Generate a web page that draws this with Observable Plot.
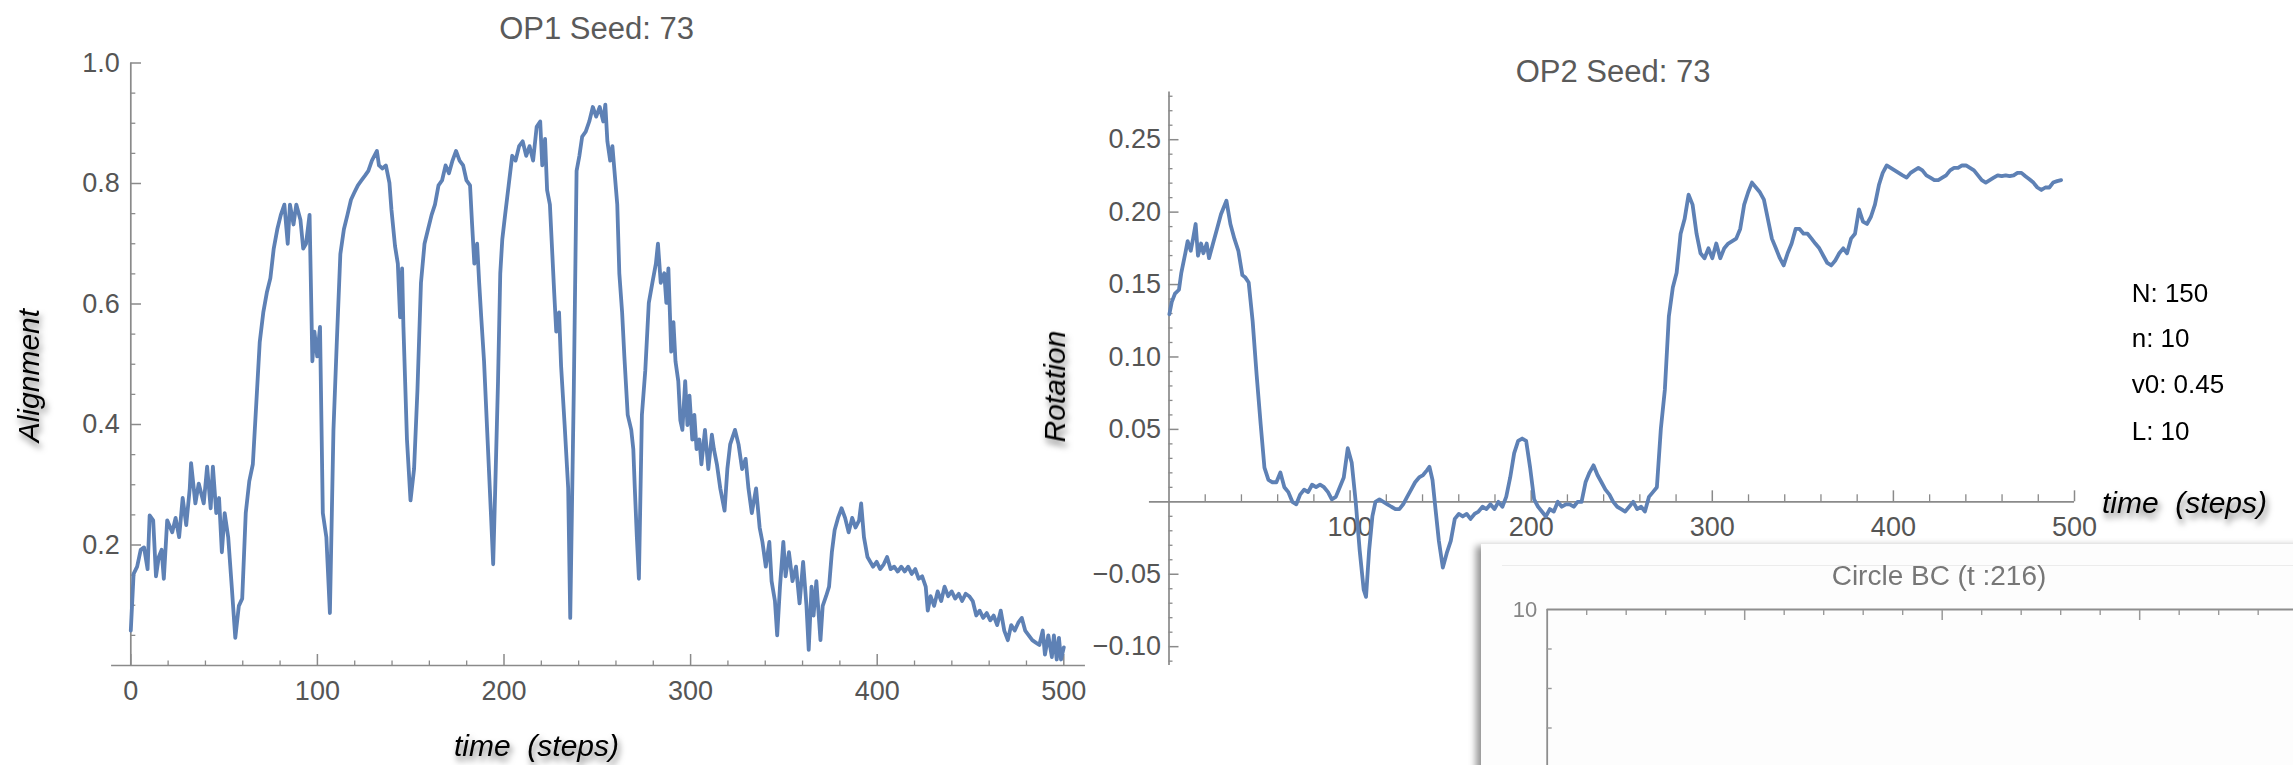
<!DOCTYPE html>
<html><head><meta charset="utf-8">
<script src="https://cdn.jsdelivr.net/npm/d3@7"></script>
<script src="https://cdn.jsdelivr.net/npm/@observablehq/plot@0.6"></script>
<style>
html,body{margin:0;padding:0;background:#fff;}
#wrap{position:relative;width:2293px;height:765px;overflow:hidden;background:#fff;}
#wrap svg{position:absolute;left:0;top:0;}
.card{position:absolute;left:1481px;top:543px;width:900px;height:300px;background:#fdfdfd;border-top:1px solid #e6e6e6;box-shadow:-5px 3px 7px rgba(0,0,0,0.42);}
.cardline{position:absolute;left:1502px;top:565px;width:900px;height:1px;background:#ececec;}
</style></head><body><div id="wrap"></div><script>
// ---------- DATA ----------
// OP1 (Alignment) time steps and values
const op1T = [
0,1.5,3.4,5.3,7.1,9.0,10.1,12.0,13.5,15.0,
16.5,17.7,19.5,22.2,24.0,25.9,27.8,29.7,31.6,32.3,
34.6,36.4,39.1,40.9,42.8,44.0,45.8,47.3,48.8,50.3,
52.2,54.1,56.0,57.9,59.7,61.6,63.5,65.4,67.2,69.1,
71.0,72.9,74.8,76.6,78.5,80.4,82.3,84.1,85.3,87.2,
88.7,90.9,92.4,93.9,95.8,97.3,98.4,99.9,101.4,102.9,
104.8,106.7,108.6,110.4,112.3,114.2,116.1,118.0,119.8,121.7,
123.6,125.5,127.3,129.2,131.9,133.0,134.9,136.7,138.6,139.7,
141.6,143.1,144.3,145.4,146.1,148.0,149.9,151.8,153.6,155.5,
157.4,159.3,161.2,163.0,164.9,166.8,168.7,170.5,172.4,174.3,
176.2,178.1,179.9,181.8,182.9,184.1,185.6,186.7,187.8,189.3,
191.2,193.1,194.2,195.3,196.8,198.0,199.1,200.6,202.5,204.4,
206.2,208.1,210.0,211.9,213.7,215.6,217.5,219.4,220.5,222.0,
223.1,224.6,226.9,228.0,229.5,230.6,232.5,234.4,235.5,237.4,
238.9,240.4,241.9,243.8,245.7,247.6,249.4,251.3,253.2,254.3,
255.4,256.9,258.1,259.2,260.7,261.8,263.3,264.5,266.3,268.2,
269.3,270.1,271.2,272.3,273.9,275.7,277.6,279.5,281.4,282.5,
284.0,285.9,287.0,288.1,289.6,290.8,291.9,293.4,294.5,295.6,
297.1,298.3,299.4,300.9,302.0,303.2,304.7,305.8,307.7,309.5,
311.4,312.5,314.1,315.9,318.2,319.7,321.2,323.8,325.7,327.6,
329.5,331.0,332.8,335.1,337.0,338.5,340.3,342.2,343.4,345.2,
346.4,347.9,349.7,350.9,352.7,354.6,356.5,358.4,360.3,362.1,
363.3,364.8,365.9,367.4,368.5,369.6,370.8,372.6,374.2,375.7,
377.2,379.0,380.9,382.8,384.7,386.6,388.4,390.3,391.4,392.9,
394.8,397.8,399.7,401.6,403.5,405.3,407.2,409.1,411.0,412.9,
414.7,416.6,418.5,420.4,422.2,424.1,426.0,427.1,428.6,430.5,
432.4,434.3,436.1,438.0,439.9,441.8,443.7,445.5,447.4,449.3,
451.2,453.1,454.9,456.8,458.7,460.6,462.4,464.3,466.2,468.1,
470.0,471.8,473.7,475.6,477.5,479.3,481.2,483.1,485.0,486.9,
488.7,489.9,491.7,493.6,494.7,496.2,497.4,498.5,500.0];
const op1V = [
.058,.152,.164,.192,.196,.160,.249,.241,.148,.180,
.192,.144,.241,.221,.245,.213,.278,.233,.294,.336,
.269,.302,.269,.330,.261,.330,.253,.278,.188,.253,
.213,.131,.046,.099,.111,.253,.306,.334,.432,.537,
.586,.619,.643,.692,.724,.748,.765,.700,.765,.732,
.765,.740,.692,.700,.748,.505,.554,.513,.562,.253,
.213,.087,.391,.537,.683,.724,.748,.773,.785,.797,
.805,.813,.821,.838,.854,.830,.825,.830,.801,.756,
.696,.667,.578,.659,.562,.375,.274,.326,.456,.635,
.700,.724,.748,.765,.797,.805,.830,.817,.838,.854,
.838,.830,.805,.797,.732,.667,.700,.635,.578,.505,
.375,.245,.168,.294,.472,.651,.708,.748,.797,.846,
.838,.862,.870,.846,.862,.838,.894,.903,.830,.874,
.789,.765,.619,.554,.586,.497,.399,.294,.079,.456,
.821,.846,.878,.886,.903,.927,.911,.927,.903,.931,
.870,.838,.862,.821,.765,.651,.586,.513,.416,.391,
.359,.294,.213,.144,.416,.489,.602,.635,.667,.700,
.635,.651,.602,.659,.521,.570,.505,.472,.407,.391,
.472,.399,.448,.375,.416,.359,.375,.334,.391,.326,
.383,.359,.334,.294,.257,.326,.367,.391,.367,.326,
.343,.294,.253,.294,.229,.205,.164,.205,.140,.107,
.050,.131,.205,.148,.188,.140,.164,.103,.172,.099,
.026,.131,.083,.140,.091,.042,.099,.115,.131,.188,
.225,.245,.261,.245,.221,.245,.229,.241,.269,.213,
.180,.164,.172,.160,.168,.180,.160,.164,.156,.164,
.156,.164,.152,.160,.144,.148,.131,.091,.115,.099,
.123,.107,.131,.115,.123,.111,.119,.107,.119,.115,
.107,.083,.091,.079,.087,.075,.083,.067,.091,.058,
.042,.067,.058,.071,.079,.058,.050,.042,.038,.034,
.058,.018,.050,.014,.050,.010,.046,.010,.030];

// OP2 (Rotation) time steps and values
const op2T = [
0.2,1.5,3.3,5.5,6.8,9.0,10.3,12.0,13.3,14.7,
16.0,17.7,19.0,20.8,22.1,24.3,26.5,28.7,31.7,33.9,
36.1,38.3,40.5,42.2,44.0,46.2,48.4,50.6,52.7,54.9,
57.1,59.3,61.5,63.7,65.9,68.1,70.3,72.4,74.6,76.8,
79.0,81.2,83.4,85.6,87.8,89.9,92.1,94.3,96.5,98.7,
100.9,103.1,105.3,107.5,108.8,110.5,112.3,114.0,116.2,118.4,
120.6,122.8,125.0,127.2,129.3,131.5,133.7,135.9,138.1,140.3,
142.5,143.8,145.5,147.3,149.0,151.2,153.4,155.6,157.8,160.0,
162.2,164.4,166.5,168.7,170.9,173.1,175.3,177.5,179.7,181.9,
184.1,186.2,188.4,190.6,192.8,195.0,197.2,199.4,201.6,203.8,
205.9,208.1,210.3,212.5,214.7,216.9,219.1,221.3,223.5,225.6,
227.8,230.0,232.2,234.4,236.6,238.8,241.0,243.2,245.3,247.5,
249.7,251.9,254.1,256.3,258.5,260.7,262.8,265.0,267.2,269.4,
271.6,273.8,276.0,278.2,280.3,282.5,284.7,286.9,289.1,291.3,
293.5,295.7,297.9,300.0,302.2,304.4,306.6,308.8,311.0,313.2,
315.4,317.6,319.8,321.9,324.1,326.3,328.5,330.7,332.9,335.1,
337.3,339.4,341.6,343.8,346.0,348.2,350.4,352.6,354.8,356.9,
359.1,361.3,363.5,365.7,367.9,370.1,372.3,374.4,376.6,378.8,
381.0,383.2,385.4,387.6,389.8,392.0,394.1,396.3,398.5,400.7,
402.9,405.1,407.3,409.5,411.6,413.8,416.0,418.2,420.4,422.6,
424.8,427.0,429.1,431.3,433.5,435.7,437.9,440.1,442.3,444.5,
446.7,448.8,451.0,453.2,455.4,457.6,459.8,462.0,464.2,466.4,
468.5,470.7,472.9,475.1,477.3,479.5,481.7,483.9,486.1,488.2,
490.4,492.6];
const op2V = [
.1295,.1379,.1437,.1464,.1581,.1716,.1800,.1733,.1817,.1918,
.1699,.1783,.1716,.1783,.1682,.1783,.1884,.1985,.2079,.1918,
.1817,.1733,.1565,.1548,.1514,.1245,.0875,.0538,.0236,.0151,
.0135,.0135,.0202,.0101,.0067,0,-.0017,.0050,.0084,.0067,
.0118,.0101,.0118,.0101,.0067,.0017,.0034,.0101,.0168,.0370,
.0269,0,-.0336,-.0606,-.0656,-.0336,-.0101,0,.0017,0,
-.0017,-.0034,-.0050,-.0050,-.0017,.0034,.0084,.0135,.0168,.0185,
.0219,.0242,.0151,-.0067,-.0269,-.0454,-.0353,-.0269,-.0118,-.0084,
-.0101,-.0084,-.0118,-.0084,-.0067,-.0034,-.0050,-.0017,-.0050,0,
-.0034,.0034,.0168,.0336,.0421,.0437,.0421,.0236,.0017,-.0034,
-.0067,-.0101,-.0050,-.0067,0,-.0034,-.0017,-.0017,-.0034,0,
0,.0135,.0202,.0252,.0185,.0135,.0084,.0050,0,-.0034,
-.0050,-.0067,-.0034,0,-.0050,-.0034,-.0067,.0034,.0067,.0101,
.0505,.0774,.1279,.1480,.1581,.1851,.1952,.2120,.2052,.1851,
.1716,.1682,.1750,.1682,.1783,.1682,.1750,.1783,.1800,.1817,
.1884,.2052,.2137,.2204,.2170,.2137,.2086,.1952,.1817,.1750,
.1682,.1632,.1716,.1783,.1884,.1884,.1851,.1851,.1817,.1783,
.1750,.1699,.1649,.1632,.1666,.1716,.1750,.1716,.1817,.1851,
.2019,.1935,.1918,.1968,.2052,.2187,.2271,.2322,.2305,.2288,
.2271,.2254,.2238,.2271,.2288,.2305,.2288,.2254,.2238,.2221,
.2221,.2238,.2254,.2288,.2305,.2305,.2322,.2322,.2305,.2288,
.2254,.2221,.2204,.2221,.2238,.2254,.2248,.2254,.2248,.2254,
.2271,.2271,.2248,.2227,.2204,.2170,.2153,.2170,.2170,.2204,
.2214,.2221];

// Tick values / labels
const op1XMajor = [0, 100, 200, 300, 400, 500];
const op1YMajor = [0.2, 0.4, 0.6, 0.8, 1.0];
const op2XMajor = [100, 200, 300, 400, 500];
const op2YMajor = [-0.10, -0.05, 0.05, 0.10, 0.15, 0.20, 0.25];
const insetXMajor = [2, 4, 6];
const insetYLabels = [10];

// Texts
const titles = ["OP1 Seed: 73", "OP2 Seed: 73"];
const axisLabels = {op1Y: "Alignment", op2Y: "Rotation", x: "time\u00a0\u00a0(steps)"};
const params = ["N: 150", "n: 10", "v0: 0.45", "L: 10"];
const insetTitle = "Circle BC (t :216)";

// ---------- STYLE ----------
const W = 2293, H = 765;
const FONT = '"Liberation Sans", Arial, Helvetica, sans-serif';
const LINE = "#5E81B5", AX = "#8a8a8a", LBL = "#555555";
const baseStyle = {background: "transparent", overflow: "visible", maxWidth: "none", fontFamily: FONT, fontSize: "27px"};
const isMult = (v, s) => Math.abs(Math.round(v / s) * s - v) < 1e-6;
const op1XMinor = d3.range(20, 500, 20).filter(v => !isMult(v, 100));
const op1YMinor = d3.range(0.05, 0.99, 0.05).filter(v => !isMult(v, 0.2));
const op2XMinor = d3.range(20, 500, 20).filter(v => !isMult(v, 100));
const op2YMinor = d3.range(-0.11, 0.285, 0.01).filter(v => !isMult(v, 0.05));
const insetXMinor = d3.range(0.4, 7.7, 0.4).filter(v => !isMult(v, 2));
const insetYMinor = d3.range(9.6, 8.3, -0.4);

const wrap = document.getElementById("wrap");

// ---------- OP1 ----------
const op1 = op1T.map((t, i) => ({t, v: op1V[i]}));
const p1 = Plot.plot({
  width: W, height: H,
  marginLeft: 130.3, marginRight: W - 1063.3, marginTop: 62.5, marginBottom: H - 665,
  x: {domain: [0, 500]}, y: {domain: [0, 1]},
  style: baseStyle,
  marks: [
    Plot.ruleY([0], {x1: () => -10.3, x2: () => 511.6, stroke: AX, strokeWidth: 1.7}),
    Plot.ruleX([0], {stroke: AX, strokeWidth: 1.7}),
    Plot.axisX({ticks: op1XMajor, tickSize: -11, fill: "none", stroke: AX, strokeWidth: 1.5, label: null}),
    Plot.axisX({ticks: op1XMinor, tickSize: -4.5, fill: "none", stroke: AX, strokeWidth: 1.3, label: null}),
    Plot.axisX({ticks: op1XMajor, tickSize: 0, tickPadding: 15, fill: LBL, fontSize: 27, tickFormat: d => String(d), label: null}),
    Plot.axisY({ticks: op1YMajor, tickSize: -10.7, fill: "none", stroke: AX, strokeWidth: 1.5, label: null}),
    Plot.axisY({ticks: op1YMinor, tickSize: -5, fill: "none", stroke: AX, strokeWidth: 1.3, label: null}),
    Plot.axisY({ticks: op1YMajor, tickSize: 0, tickPadding: 11, fill: LBL, fontSize: 27, tickFormat: d3.format(".1f"), label: null}),
    Plot.line(op1, {x: "t", y: "v", stroke: LINE, strokeWidth: 3.8, strokeLinejoin: "round"})
  ]
});
wrap.appendChild(p1);

// ---------- OP2 ----------
const op2 = op2T.map((t, i) => ({t, v: op2V[i]}));
const y2Dom = [-0.113, 0.283];
const mt2 = 91.4, mb2 = H - 665;
const inner2 = H - mt2 - mb2;
const yZero2 = mt2 + (y2Dom[1] - 0) / (y2Dom[1] - y2Dom[0]) * inner2;
const dyAxis2 = yZero2 - (H - mb2);
const p2 = Plot.plot({
  width: W, height: H,
  marginLeft: 1168.5, marginRight: W - 2074, marginTop: mt2, marginBottom: mb2,
  x: {domain: [0, 500]}, y: {domain: y2Dom},
  style: baseStyle,
  marks: [
    Plot.ruleY([0], {x1: () => -10.8, x2: () => 500, stroke: AX, strokeWidth: 1.7}),
    Plot.ruleX([0], {stroke: AX, strokeWidth: 1.7}),
    Plot.axisX({ticks: op2XMajor, tickSize: -11, dy: dyAxis2, fill: "none", stroke: AX, strokeWidth: 1.5, label: null}),
    Plot.axisX({ticks: op2XMinor, tickSize: -7, dy: dyAxis2, fill: "none", stroke: AX, strokeWidth: 1.3, label: null}),
    Plot.axisX({ticks: op2XMajor, tickSize: 0, tickPadding: 15, dy: dyAxis2, fill: LBL, fontSize: 27, tickFormat: d => String(d), label: null}),
    Plot.axisY({ticks: op2YMajor, tickSize: -10, fill: "none", stroke: AX, strokeWidth: 1.5, label: null}),
    Plot.axisY({ticks: op2YMinor, tickSize: -4, fill: "none", stroke: AX, strokeWidth: 1.3, label: null}),
    Plot.axisY({ticks: op2YMajor, tickSize: 0, tickPadding: 8, fill: LBL, fontSize: 27, tickFormat: d3.format(".2f"), label: null}),
    Plot.line(op2, {x: "t", y: "v", stroke: LINE, strokeWidth: 3.8, strokeLinejoin: "round"})
  ]
});
wrap.appendChild(p2);

// ---------- TEXT OVERLAY ----------
const ov = d3.select(wrap).append("svg").attr("width", W).attr("height", H)
  .style("font-family", FONT);
const defs = ov.append("defs");
defs.append("filter").attr("id", "shadow").attr("x", "-20%").attr("y", "-40%").attr("width", "140%").attr("height", "200%")
  .append("feDropShadow").attr("dx", 2).attr("dy", 5).attr("stdDeviation", 3)
  .attr("flood-color", "#000").attr("flood-opacity", 0.55);

ov.append("text").attr("x", 596.5).attr("y", 39).attr("text-anchor", "middle")
  .attr("font-size", 31).attr("fill", "#5a5a5a").text(titles[0]);
ov.append("text").attr("x", 1613).attr("y", 82).attr("text-anchor", "middle")
  .attr("font-size", 31).attr("fill", "#5a5a5a").text(titles[1]);

const lab = ov.append("g").attr("filter", "url(#shadow)").attr("font-style", "italic")
  .attr("font-size", 30).attr("fill", "#000");
lab.append("text").attr("transform", "translate(39,375.6) rotate(-90)").attr("text-anchor", "middle").text(axisLabels.op1Y);
lab.append("text").attr("transform", "translate(1065,386.6) rotate(-90)").attr("text-anchor", "middle").text(axisLabels.op2Y);
lab.append("text").attr("x", 536.5).attr("y", 756).attr("text-anchor", "middle").text(axisLabels.x);
lab.append("text").attr("x", 2102).attr("y", 513).attr("text-anchor", "start").text(axisLabels.x);

const pY = [301.7, 347.3, 393.3, 440];
params.forEach((s, i) => {
  ov.append("text").attr("x", 2131.7).attr("y", pY[i]).attr("font-size", 26).attr("fill", "#000").text(s);
});

// ---------- INSET (screenshot panel) ----------
const card = document.createElement("div"); card.className = "card"; wrap.appendChild(card);
const cl = document.createElement("div"); cl.className = "cardline"; wrap.appendChild(cl);

const iml = 1546.7, imt = 609, unit = 98.75;
const p3 = Plot.plot({
  width: iml + 10 * unit + 50, height: imt + 10 * unit + 50,
  marginLeft: iml, marginRight: 50, marginTop: imt, marginBottom: 50,
  x: {domain: [0, 10]}, y: {domain: [0, 10]},
  style: baseStyle,
  marks: [
    Plot.ruleY([10], {stroke: "#8e8e8e", strokeWidth: 1.8}),
    Plot.ruleX([0], {stroke: "#8e8e8e", strokeWidth: 1.8}),
    Plot.axisX({anchor: "top", ticks: insetXMajor, tickSize: -10, fill: "none", stroke: "#999", strokeWidth: 1.5, label: null}),
    Plot.axisX({anchor: "top", ticks: insetXMinor, tickSize: -5, fill: "none", stroke: "#999", strokeWidth: 1.4, label: null}),
    Plot.axisY({ticks: insetYMinor, tickSize: -5, fill: "none", stroke: "#999", strokeWidth: 1.4, label: null}),
    Plot.axisY({ticks: insetYLabels, tickSize: 0, tickPadding: 10, fill: "#858585", fontSize: 22, tickFormat: d => String(d), label: null})
  ]
});
wrap.appendChild(p3);
d3.select(p3).append("text").attr("x", 1939).attr("y", 585).attr("text-anchor", "middle")
  .attr("font-size", 28).attr("fill", "#777").style("font-family", FONT).text(insetTitle);
</script></body></html>
